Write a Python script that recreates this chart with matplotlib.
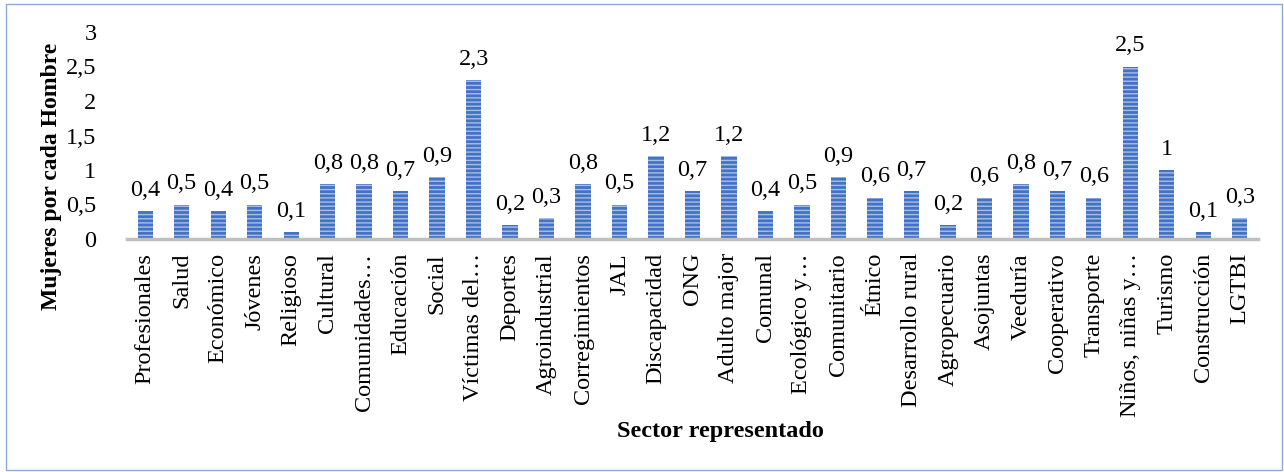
import numpy as np
import matplotlib.pyplot as plt
from matplotlib.patches import Rectangle

sectores = ["Profesionales", "Salud", "Económico", "Jóvenes", "Religioso", "Cultural",
            "Comunidades…", "Educación", "Social", "Víctimas del…", "Deportes",
            "Agroindustrial", "Corregimientos", "JAL", "Discapacidad", "ONG",
            "Adulto major", "Comunal", "Ecológico y…", "Comunitario", "Étnico",
            "Desarrollo rural", "Agropecuario", "Asojuntas", "Veeduría", "Cooperativo",
            "Transporte", "Niños, niñas y…", "Turismo", "Construcción", "LGTBI"]
mujeres_por_hombre = [0.4, 0.5, 0.4, 0.5, 0.1, 0.8, 0.8, 0.7, 0.9, 2.3, 0.2, 0.3, 0.8,
                      0.5, 1.2, 0.7, 1.2, 0.4, 0.5, 0.9, 0.6, 0.7, 0.2, 0.6, 0.8, 0.7,
                      0.6, 2.5, 1.0, 0.1, 0.3]
y_ticks = [0, 0.5, 1, 1.5, 2, 2.5, 3]

plt.rcParams['font.family'] = ['Liberation Serif', 'DejaVu Serif']
plt.rcParams['hatch.linewidth'] = 1.0

fig = plt.figure(figsize=(12.84, 4.72), dpi=100)
ax = fig.add_axes([127 / 1284, 233 / 472, 1131 / 1284, 207 / 472])

x = np.arange(len(sectores))
ax.bar(x, mujeres_por_hombre, width=0.42, color='#4472C4',
       edgecolor='#A9BFE6', linewidth=0, hatch='----')

# etiquetas de datos con coma decimal
for xi, v in zip(x, mujeres_por_hombre):
    ax.text(xi, v + 0.22, f"{v:g}".replace('.', ','), ha='center', va='baseline',
            fontsize=17.5, clip_on=False)

ax.set_xlim(-0.5, len(sectores) - 0.5)
ax.set_ylim(0, 3)
ax.set_yticks(y_ticks)
ax.set_yticklabels([f"{t:g}".replace('.', ',') for t in y_ticks], fontsize=17.5)
ax.set_xticks(x)
ax.set_xticklabels(sectores, rotation=90, fontsize=17.5, va='top')
ax.tick_params(axis='y', length=0, pad=22)
ax.tick_params(axis='x', length=0, pad=10)

for s in ['top', 'right', 'left']:
    ax.spines[s].set_visible(False)
ax.spines['bottom'].set_color('#BFBFBF')
ax.spines['bottom'].set_linewidth(2.5)

ax.set_ylabel("Mujeres por cada Hombre", fontsize=17, fontweight='bold')
ax.yaxis.set_label_coords(-0.0575, 0.304)
fig.text(720 / 1284, 40 / 472, "Sector representado", ha='center', va='center',
         fontsize=17.5, fontweight='bold')

fig.patches.append(Rectangle((6 / 1284, 2 / 472), 1276 / 1284, 466 / 472,
                             transform=fig.transFigure, fill=False,
                             edgecolor='#8EAADB', linewidth=1))

fig.savefig("out.png", dpi=100)
